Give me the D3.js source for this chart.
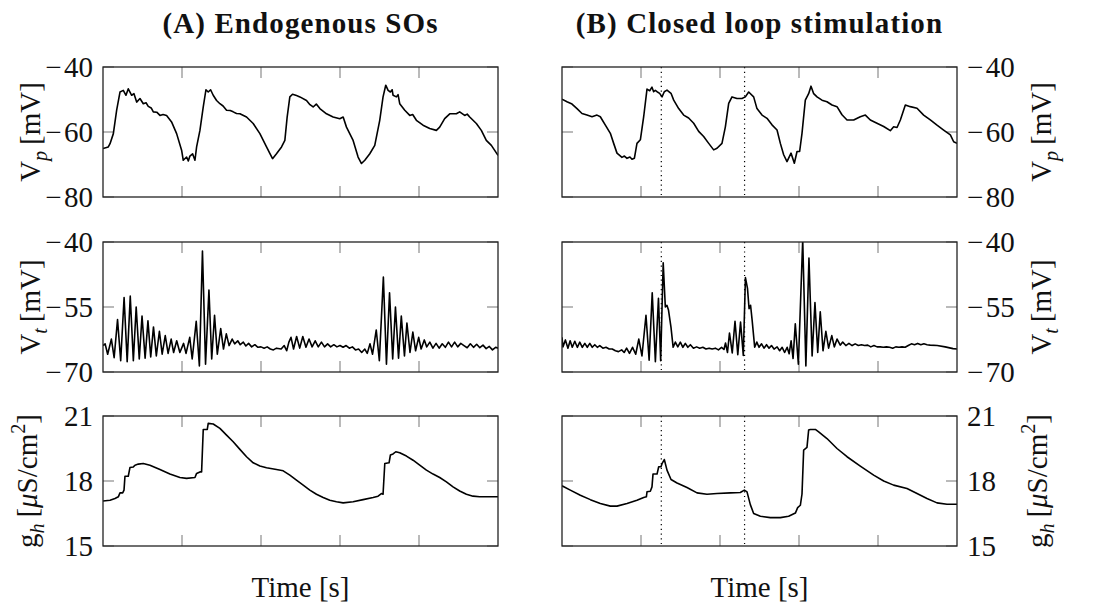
<!DOCTYPE html>
<html>
<head>
<meta charset="utf-8">
<script src="https://cdn.jsdelivr.net/npm/d3@7"></script>
<style>
  html, body { margin: 0; padding: 0; background: #fff; }
  svg { display: block; }
  text { font-family: "Liberation Serif", "Times New Roman", serif; fill: #111; }
</style>
</head>
<body>
<svg id="chart" width="1101" height="607"></svg>
<script>
// ---------------- data ----------------
const titles = ["(A) Endogenous SOs", "(B) Closed loop stimulation"];
const timeDomain = [0, 5];
const timeTicks = [1, 2, 3, 4];
const vpTicks = [-80, -60, -40];
const vtTicks = [-70, -55, -40];
const ghTicks = [15, 18, 21];
const stimTimes = [1.257, 2.311];   // closed-loop stimulation instants (dotted lines)

// (A) endogenous — V_p [mV]
const vpA = [[0,-65.1],[0.067,-64.6],[0.089,-63.6],[0.131,-60.5],[0.173,-53.3],[0.215,-47.7],[0.257,-47.2],[0.291,-48.7],[0.32,-46.7],[0.363,-48.7],[0.392,-48.2],[0.426,-50.8],[0.468,-49.7],[0.51,-51.3],[0.545,-51.0],[0.573,-52.1],[0.61,-52.6],[0.637,-53.8],[0.68,-53.9],[0.721,-54.9],[0.76,-54.6],[0.805,-54.9],[0.868,-56.9],[0.932,-60.5],[0.995,-65.6],[1.016,-68.7],[1.058,-67.7],[1.08,-68.9],[1.1,-67.4],[1.134,-66.7],[1.164,-68.7],[1.185,-64.6],[1.227,-59.5],[1.269,-52.3],[1.303,-47.0],[1.332,-47.7],[1.362,-47.0],[1.395,-48.7],[1.438,-50.3],[1.48,-51.3],[1.52,-52.0],[1.564,-53.3],[1.61,-53.4],[1.648,-53.8],[1.69,-54.3],[1.733,-54.4],[1.817,-55.4],[1.901,-57.4],[1.986,-60.5],[2.07,-64.6],[2.11,-66.5],[2.146,-68.2],[2.196,-66.7],[2.26,-64.6],[2.302,-62.6],[2.331,-55.4],[2.365,-49.2],[2.399,-48.4],[2.45,-48.8],[2.492,-49.2],[2.576,-50.3],[2.62,-51.6],[2.66,-52.3],[2.7,-51.4],[2.745,-52.8],[2.829,-54.4],[2.913,-55.4],[2.997,-55.9],[3.04,-55.4],[3.082,-58.5],[3.166,-62.6],[3.229,-67.7],[3.272,-69.7],[3.314,-68.7],[3.377,-66.7],[3.44,-64.1],[3.503,-56.4],[3.545,-49.2],[3.579,-45.6],[3.609,-47.2],[3.638,-47.7],[3.66,-47.0],[3.672,-48.7],[3.714,-49.2],[3.735,-48.5],[3.756,-51.3],[3.82,-53.3],[3.883,-54.9],[3.92,-54.6],[3.967,-56.4],[4.051,-57.9],[4.136,-58.9],[4.22,-59.5],[4.262,-58.5],[4.325,-55.9],[4.389,-54.4],[4.473,-54.4],[4.515,-53.8],[4.578,-54.9],[4.61,-54.5],[4.642,-55.4],[4.726,-57.4],[4.789,-59.5],[4.852,-62.6],[4.916,-64.1],[5.0,-67.2]];

// (A) endogenous — V_t [mV]
const vtA = [[0,-63.9],[0.027,-63.5],[0.059,-65.9],[0.106,-62.4],[0.141,-66.7],[0.184,-57.9],[0.224,-67.4],[0.267,-52.8],[0.306,-67.6],[0.345,-52.5],[0.384,-67.4],[0.42,-55.0],[0.459,-67.0],[0.494,-57.1],[0.533,-66.8],[0.569,-58.2],[0.604,-66.5],[0.639,-59.6],[0.675,-66.3],[0.714,-60.6],[0.749,-65.9],[0.788,-61.6],[0.824,-65.7],[0.863,-62.4],[0.894,-65.5],[0.933,-62.8],[0.973,-65.5],[1.02,-63.4],[1.051,-65.7],[1.098,-62.0],[1.129,-67.0],[1.18,-58.3],[1.22,-68.6],[1.259,-42.1],[1.298,-68.2],[1.341,-51.1],[1.376,-67.0],[1.412,-56.9],[1.447,-65.9],[1.49,-60.0],[1.525,-64.7],[1.561,-61.2],[1.596,-63.9],[1.635,-62.4],[1.667,-63.5],[1.706,-62.8],[1.737,-63.7],[1.776,-63.1],[1.808,-64.0],[1.843,-63.4],[1.882,-64.2],[1.922,-63.7],[1.961,-64.3],[2.0,-64.2],[2.039,-64.5],[2.078,-64.2],[2.118,-64.7],[2.157,-64.9],[2.196,-64.5],[2.255,-64.7],[2.294,-63.9],[2.325,-65.1],[2.353,-63.1],[2.38,-62.0],[2.412,-64.7],[2.451,-61.8],[2.49,-64.5],[2.529,-61.8],[2.569,-64.3],[2.608,-62.4],[2.647,-64.2],[2.686,-62.8],[2.725,-64.2],[2.765,-63.1],[2.804,-64.2],[2.843,-63.5],[2.882,-64.2],[2.922,-63.7],[2.961,-64.2],[3.0,-63.9],[3.039,-64.3],[3.078,-63.9],[3.118,-64.5],[3.157,-64.2],[3.196,-64.9],[3.235,-64.7],[3.275,-65.5],[3.314,-64.7],[3.345,-65.7],[3.38,-63.5],[3.412,-65.9],[3.459,-60.3],[3.498,-67.4],[3.549,-48.1],[3.588,-68.2],[3.627,-51.7],[3.667,-67.0],[3.702,-55.0],[3.741,-66.8],[3.776,-57.1],[3.816,-66.3],[3.847,-58.7],[3.886,-65.5],[3.922,-60.8],[3.957,-65.1],[3.996,-62.0],[4.027,-64.7],[4.067,-62.6],[4.098,-64.2],[4.137,-63.1],[4.176,-64.5],[4.216,-63.4],[4.255,-64.5],[4.294,-63.5],[4.333,-64.3],[4.373,-63.1],[4.412,-64.2],[4.451,-63.1],[4.49,-64.2],[4.529,-63.4],[4.569,-63.9],[4.61,-64.4],[4.65,-63.5],[4.69,-64.3],[4.73,-63.6],[4.77,-64.4],[4.81,-63.8],[4.85,-64.6],[4.89,-64.1],[4.93,-64.9],[4.97,-64.3],[5.0,-64.5]];

// (A) endogenous — g_h [µS/cm²]
const ghA = [[0,17.08],[0.089,17.11],[0.152,17.19],[0.194,17.27],[0.215,17.45],[0.249,17.45],[0.266,17.58],[0.278,18.22],[0.32,18.22],[0.341,18.62],[0.384,18.65],[0.405,18.73],[0.447,18.78],[0.51,18.81],[0.594,18.73],[0.721,18.53],[0.847,18.32],[0.974,18.16],[1.058,18.12],[1.164,18.16],[1.185,18.35],[1.227,18.42],[1.248,18.42],[1.269,20.38],[1.32,20.38],[1.332,20.66],[1.395,20.63],[1.48,20.43],[1.564,20.12],[1.648,19.81],[1.733,19.46],[1.817,19.12],[1.901,18.84],[1.986,18.69],[2.07,18.61],[2.196,18.53],[2.281,18.47],[2.365,18.27],[2.449,18.04],[2.534,17.81],[2.618,17.58],[2.702,17.39],[2.787,17.24],[2.871,17.11],[2.955,17.04],[3.04,16.99],[3.166,17.04],[3.293,17.14],[3.419,17.24],[3.482,17.3],[3.524,17.42],[3.545,17.39],[3.567,18.81],[3.621,18.84],[3.638,19.2],[3.672,19.25],[3.706,19.35],[3.756,19.3],[3.841,19.15],[3.925,18.96],[4.009,18.73],[4.094,18.5],[4.178,18.32],[4.262,18.16],[4.347,17.96],[4.431,17.73],[4.515,17.54],[4.6,17.39],[4.684,17.3],[4.768,17.27],[4.895,17.27],[5.0,17.27]];

// (B) closed loop — V_p [mV]
const vpB = [[0,-49.9],[0.063,-50.7],[0.127,-51.4],[0.19,-52.8],[0.253,-54.3],[0.316,-54.8],[0.38,-55.3],[0.443,-54.8],[0.485,-55.3],[0.549,-57.9],[0.612,-60.4],[0.654,-63.5],[0.696,-66.5],[0.759,-67.8],[0.79,-67.4],[0.823,-68.1],[0.86,-67.7],[0.886,-68.4],[0.916,-68.1],[0.949,-63.5],[0.992,-62.4],[1.034,-55.3],[1.076,-46.8],[1.11,-47.3],[1.139,-46.2],[1.16,-47.6],[1.181,-47.2],[1.203,-47.6],[1.236,-48.1],[1.266,-49.2],[1.295,-47.6],[1.329,-47.1],[1.38,-48.1],[1.414,-50.2],[1.477,-52.8],[1.54,-54.8],[1.603,-55.7],[1.667,-57.3],[1.73,-59.8],[1.793,-61.4],[1.857,-63.5],[1.92,-65.5],[1.962,-65.0],[2.025,-63.5],[2.068,-58.4],[2.11,-51.2],[2.152,-49.2],[2.215,-49.7],[2.278,-49.7],[2.321,-49.2],[2.363,-47.7],[2.426,-49.2],[2.468,-52.8],[2.532,-54.8],[2.595,-55.8],[2.658,-57.8],[2.722,-59.4],[2.764,-63.5],[2.806,-67.0],[2.848,-69.1],[2.899,-66.5],[2.941,-69.6],[2.975,-66.0],[3.008,-66.0],[3.038,-60.4],[3.08,-50.2],[3.122,-48.2],[3.152,-45.9],[3.186,-48.2],[3.228,-49.2],[3.291,-50.2],[3.354,-50.7],[3.418,-51.7],[3.481,-52.2],[3.544,-54.7],[3.608,-56.3],[3.692,-56.3],[3.776,-55.3],[3.84,-54.8],[3.903,-56.3],[3.987,-57.3],[4.072,-58.3],[4.156,-59.6],[4.198,-58.4],[4.241,-58.6],[4.283,-56.3],[4.346,-51.7],[4.409,-52.2],[4.494,-52.7],[4.578,-54.8],[4.662,-56.3],[4.747,-57.9],[4.831,-59.4],[4.916,-60.9],[4.958,-63.0],[5.0,-63.5]];

// (B) closed loop — V_t [mV]
const vtB = [[0,-62.0],[0.012,-64.2],[0.043,-62.6],[0.075,-64.5],[0.103,-62.8],[0.13,-64.3],[0.162,-62.9],[0.194,-64.3],[0.225,-63.1],[0.257,-64.3],[0.289,-63.4],[0.32,-64.3],[0.352,-63.4],[0.383,-64.3],[0.415,-63.7],[0.447,-64.3],[0.478,-63.9],[0.518,-64.5],[0.557,-64.3],[0.597,-64.7],[0.636,-64.7],[0.676,-65.1],[0.715,-65.3],[0.755,-64.9],[0.787,-65.5],[0.818,-64.5],[0.854,-65.7],[0.893,-64.3],[0.933,-65.9],[0.972,-62.4],[1.012,-66.3],[1.063,-56.9],[1.103,-67.3],[1.142,-51.7],[1.182,-67.6],[1.221,-53.0],[1.249,-67.4],[1.281,-44.8],[1.308,-55.0],[1.328,-54.6],[1.348,-55.7],[1.379,-59.6],[1.407,-64.3],[1.435,-63.1],[1.466,-64.2],[1.498,-63.1],[1.53,-64.3],[1.561,-63.4],[1.593,-64.3],[1.625,-63.7],[1.664,-64.5],[1.704,-64.2],[1.743,-64.5],[1.783,-64.3],[1.822,-64.7],[1.862,-64.5],[1.901,-64.7],[1.941,-64.5],[1.98,-64.9],[2.02,-64.3],[2.05,-64.8],[2.07,-63.3],[2.095,-65.5],[2.12,-61.0],[2.155,-65.6],[2.19,-58.3],[2.225,-66.0],[2.26,-58.5],[2.295,-66.2],[2.322,-48.2],[2.348,-50.7],[2.368,-55.4],[2.387,-54.6],[2.407,-58.1],[2.439,-64.3],[2.466,-63.1],[2.494,-64.3],[2.526,-63.5],[2.557,-64.5],[2.589,-63.7],[2.621,-64.5],[2.652,-63.9],[2.684,-64.7],[2.723,-64.2],[2.755,-65.1],[2.787,-64.3],[2.818,-65.5],[2.85,-64.3],[2.875,-65.8],[2.9,-62.8],[2.925,-66.9],[2.953,-58.9],[2.992,-68.2],[3.047,-39.5],[3.087,-68.6],[3.126,-43.7],[3.166,-66.3],[3.202,-54.0],[3.237,-65.5],[3.269,-56.1],[3.304,-65.1],[3.34,-60.6],[3.375,-64.5],[3.415,-61.6],[3.447,-64.2],[3.482,-62.4],[3.522,-63.8],[3.553,-63.1],[3.593,-63.9],[3.632,-63.4],[3.672,-63.9],[3.711,-63.5],[3.751,-63.9],[3.79,-63.7],[3.83,-63.9],[3.87,-63.8],[3.909,-64.2],[3.949,-63.9],[3.988,-64.2],[4.028,-64.2],[4.067,-64.3],[4.107,-64.2],[4.146,-64.3],[4.186,-64.5],[4.225,-64.2],[4.265,-64.3],[4.304,-64.2],[4.344,-64.3],[4.383,-63.9],[4.423,-63.5],[4.462,-63.7],[4.502,-63.4],[4.542,-63.7],[4.581,-63.5],[4.621,-63.7],[4.66,-63.8],[4.75,-63.9],[4.85,-64.2],[4.95,-64.6],[5.0,-64.7]];

// (B) closed loop — g_h [µS/cm²]
const ghB = [[0,17.78],[0.105,17.58],[0.232,17.34],[0.359,17.14],[0.485,16.96],[0.612,16.84],[0.696,16.84],[0.823,16.96],[0.949,17.11],[1.034,17.24],[1.068,17.27],[1.076,17.5],[1.118,17.53],[1.139,17.73],[1.152,18.32],[1.203,18.32],[1.224,18.66],[1.253,18.66],[1.266,18.8],[1.295,18.99],[1.329,18.5],[1.38,18.07],[1.456,17.91],[1.582,17.7],[1.709,17.45],[1.835,17.39],[1.962,17.42],[2.131,17.45],[2.257,17.47],[2.308,17.58],[2.342,17.5],[2.384,16.91],[2.426,16.5],[2.511,16.37],[2.637,16.31],[2.764,16.31],[2.869,16.37],[2.954,16.52],[2.983,16.77],[3.017,16.88],[3.038,17.4],[3.059,19.43],[3.101,19.55],[3.122,20.35],[3.143,20.38],[3.207,20.38],[3.249,20.27],[3.354,19.96],[3.481,19.5],[3.608,19.12],[3.776,18.69],[3.945,18.27],[4.072,18.0],[4.198,17.81],[4.367,17.65],[4.494,17.42],[4.62,17.19],[4.747,16.99],[4.873,16.93],[5.0,16.93]];

// ---------------- layout ----------------
const svg = d3.select("#chart");
const columns = [
  { x0: 103, x1: 498, side: "left",  title: titles[0], stim: [] },
  { x0: 562, x1: 957, side: "right", title: titles[1], stim: stimTimes }
];
const rows = [
  { y0: 67,  y1: 197, domain: [-80, -40], ticks: vpTicks, label: "vp" },
  { y0: 242, y1: 372, domain: [-70, -40], ticks: vtTicks, label: "vt" },
  { y0: 416, y1: 546, domain: [15, 21],   ticks: ghTicks, label: "gh" }
];
const seriesGrid = [[vpA, vtA, ghA], [vpB, vtB, ghB]];

const FS = 29;        // tick labels
const LFS = 29;       // axis labels
const tickLen = 11;
const tickColor = "#8c8c8c";

function fmt(v) { return v < 0 ? "\u2212\u200a" + Math.abs(v) : String(v); }

function yLabel(g, kind, x, yc) {
  const t = g.append("text")
    .attr("transform", `translate(${x},${yc}) rotate(-90)`)
    .attr("text-anchor", "middle")
    .attr("font-size", LFS);
  if (kind === "vp" || kind === "vt") {
    t.append("tspan").text("V");
    t.append("tspan").attr("font-style", "italic").attr("font-size", LFS * 0.7).attr("dy", 7).text(kind === "vp" ? "p" : "t");
    t.append("tspan").attr("dy", -7).text("\u2009[mV]");
  } else {
    t.append("tspan").text("g");
    t.append("tspan").attr("font-style", "italic").attr("font-size", LFS * 0.7).attr("dy", 7).text("h");
    t.append("tspan").attr("dy", -7).text("\u2009[");
    t.append("tspan").attr("font-style", "italic").text("\u03bc");
    t.append("tspan").text("S/cm");
    t.append("tspan").attr("font-size", LFS * 0.7).attr("dy", -12).text("2");
    t.append("tspan").attr("dy", 12).text("]");
  }
}

columns.forEach((col, ci) => {
  const x = d3.scaleLinear().domain(timeDomain).range([col.x0, col.x1]);
  const cx = (col.x0 + col.x1) / 2;

  svg.append("text")
    .attr("x", cx).attr("y", 33)
    .attr("text-anchor", "middle")
    .attr("font-size", 29)
    .attr("font-weight", "bold")
    .attr("letter-spacing", 1.1)
    .text(col.title);

  rows.forEach((row, ri) => {
    const y = d3.scaleLinear().domain(row.domain).range([row.y1, row.y0]);
    const g = svg.append("g");
    const clipId = `clip-${ci}-${ri}`;
    svg.append("clipPath").attr("id", clipId)
      .append("rect").attr("x", col.x0).attr("y", row.y0)
      .attr("width", col.x1 - col.x0).attr("height", row.y1 - row.y0);

    // x ticks (inside, top and bottom)
    g.selectAll(".xt").data(timeTicks).join("g").each(function (d) {
      const s = d3.select(this);
      s.append("line").attr("x1", x(d)).attr("x2", x(d)).attr("y1", row.y1).attr("y2", row.y1 - tickLen)
        .attr("stroke", tickColor).attr("stroke-width", 1.2);
      s.append("line").attr("x1", x(d)).attr("x2", x(d)).attr("y1", row.y0).attr("y2", row.y0 + tickLen)
        .attr("stroke", tickColor).attr("stroke-width", 1.2);
    });
    // y ticks (inside, both sides)
    g.selectAll(".yt").data(row.ticks).join("g").each(function (d) {
      const s = d3.select(this);
      s.append("line").attr("x1", col.x0).attr("x2", col.x0 + tickLen).attr("y1", y(d)).attr("y2", y(d))
        .attr("stroke", tickColor).attr("stroke-width", 1.2);
      s.append("line").attr("x1", col.x1).attr("x2", col.x1 - tickLen).attr("y1", y(d)).attr("y2", y(d))
        .attr("stroke", tickColor).attr("stroke-width", 1.2);
    });

    // y tick labels
    g.selectAll(".yl").data(row.ticks).join("text")
      .attr("x", col.side === "left" ? col.x0 - 10 : col.x1 + 10)
      .attr("y", d => y(d))
      .attr("dy", "0.35em")
      .attr("text-anchor", col.side === "left" ? "end" : "start")
      .attr("font-size", FS)
      .text(fmt);

    // stimulation dotted lines
    g.selectAll(".stim").data(col.stim).join("line")
      .attr("x1", d => x(d)).attr("x2", d => x(d))
      .attr("y1", row.y0).attr("y2", row.y1)
      .attr("stroke", "#000").attr("stroke-width", 1.2)
      .attr("stroke-dasharray", "1.2,3.5");

    // trace
    const line = d3.line().x(d => x(d[0])).y(d => y(d[1]));
    g.append("path")
      .datum(seriesGrid[ci][ri])
      .attr("clip-path", `url(#${clipId})`)
      .attr("d", line)
      .attr("fill", "none")
      .attr("stroke", "#000")
      .attr("stroke-width", 1.6)
      .attr("stroke-linejoin", "round");

    // frame
    g.append("rect")
      .attr("x", col.x0).attr("y", row.y0)
      .attr("width", col.x1 - col.x0).attr("height", row.y1 - row.y0)
      .attr("fill", "none").attr("stroke", "#222").attr("stroke-width", 1.3);

    // y label
    const yc = (row.y0 + row.y1) / 2;
    const lx = col.side === "left" ? (row.label === "gh" ? 37 : 40) : (row.label === "gh" ? 1047 : 1051);
    yLabel(g, row.label, lx, yc);
  });

  svg.append("text")
    .attr("x", cx).attr("y", 597)
    .attr("text-anchor", "middle")
    .attr("font-size", LFS)
    .text("Time [s]");
});
</script>
</body>
</html>
